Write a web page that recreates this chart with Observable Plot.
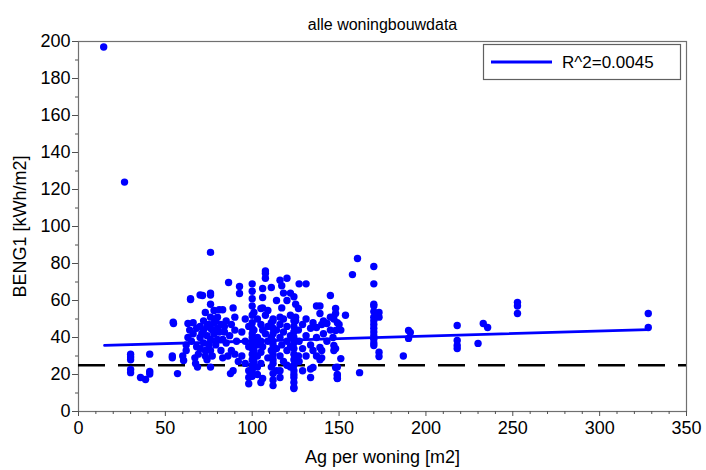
<!DOCTYPE html>
<html>
<head>
<meta charset="utf-8">
<script src="https://cdn.jsdelivr.net/npm/d3@7"></script>
<script src="https://cdn.jsdelivr.net/npm/@observablehq/plot@0.6"></script>
<style>
  html, body { margin: 0; padding: 0; background: #fff; }
  #chart { width: 706px; height: 470px; position: relative; }
</style>
</head>
<body>
<div id="chart"></div>
<script>
// ---- data ----
const chartTitle = "alle woningbouwdata";
const xLabel = "Ag per woning [m2]";
const yLabel = "BENG1 [kWh/m2]";
const legendLabel = "R^2=0.0045";

const xTicks = [0, 50, 100, 150, 200, 250, 300, 350];
const yTicks = [0, 20, 40, 60, 80, 100, 120, 140, 160, 180, 200];
const threshold = [25];

// regression line end points
const fitX = [15, 328];
const fitY = [35.7, 44.3];

// scatter points: Ag per woning [m2]
const agPerWoning = [
  14.5, 26.5,
  30, 30, 30, 30, 30, 41, 41, 41, 35.7, 38.6, 54, 54, 54.7, 54.5, 57,
  63, 64.5, 64.5, 60, 60.5, 62, 62, 63, 64, 65, 66, 67.4, 68.5, 68, 69, 70, 70, 70, 71.4,
  72, 72, 72, 73, 73, 74, 74, 75, 75, 76, 76, 76, 76, 76, 76, 76, 76, 76, 77, 78, 78, 78,
  79, 80, 80, 80, 81, 82, 82, 83, 83, 84, 85, 85, 86, 86.4, 87.5, 88, 89, 89, 90, 90, 90,
  91, 92.7, 92.7, 92,
  66, 68, 71, 74, 77, 79, 81, 83, 84, 87, 88, 70, 73, 67,
  94, 94,
  96, 96, 96,
  98, 98, 98, 98, 98,
  100, 100, 100, 100, 100, 100, 100, 100, 100, 100, 100, 100, 100, 100, 100, 100,
  101, 101, 101, 101,
  103, 103, 103, 103, 103, 103,
  105, 105, 105, 105, 105, 105,
  106, 106, 106, 106, 106, 106,
  107.6, 107.6, 107.6, 107.6, 107.6,
  109, 109, 109, 109,
  111, 111, 111, 111, 111,
  112, 112, 112, 112, 112, 112, 112, 112, 112, 112, 112, 112,
  114, 114, 114, 114,
  116, 116, 116, 116, 116, 116, 116,
  117, 117, 117,
  118, 118, 118, 118,
  120, 120, 120, 120, 120, 120,
  122, 122, 122, 122, 122,
  124, 124, 124, 124, 124, 124, 124, 124, 124, 124, 124, 124, 124, 124, 124, 124,
  125, 125, 125,
  126.6, 126.6, 126.6,
  127, 127, 127,
  129, 129, 129,
  131, 131, 131, 131,
  133.6, 133.6, 133.6, 133.6,
  135, 135, 135,
  137, 137, 137, 137,
  139, 139, 139, 139,
  140, 140, 140,
  141, 141,
  143, 143,
  145, 145, 145,
  146.5, 146.5,
  147, 147, 147,
  148, 148, 148, 148, 148,
  149, 149, 149, 149, 149, 149,
  150, 151, 151, 153.7, 157.7, 160.6, 161.8,
  170, 170, 170, 170, 170, 170, 170, 170, 170, 170, 170, 170, 170, 170,
  173, 173, 173, 173,
  187, 190, 190, 191,
  218, 218, 218, 218,
  230, 233, 235.5,
  252.7, 252.7, 252.7,
  328, 328
];

// scatter points: BENG1 [kWh/m2]
const beng1 = [
  197, 124,
  31, 29.5, 28, 22.7, 21, 31, 21.6, 20.3, 18.4, 17.3, 30, 29, 47.6, 48.3, 20.5,
  47.6, 61, 60.5, 30, 27.6, 33, 36, 40, 44, 38, 42, 26, 24, 35, 31, 46, 40, 63, 62.7,
  49, 44, 37, 53.5, 33, 28, 41, 47, 36, 86, 64, 63, 58, 51, 45, 39, 33, 24, 30, 54.6, 48, 42,
  36, 51, 45, 39, 55, 47, 33, 55, 29, 43, 37, 49, 30, 69.7, 20.5, 33, 22, 56, 51, 44, 31,
  38, 67.6, 63.8, 27,
  48, 45, 42, 46, 44, 49, 43, 39, 46, 41, 47, 34, 30, 29,
  43, 30,
  50, 38, 26,
  15, 18.4, 22, 35, 46,
  69, 65, 61, 57, 52, 48, 45, 42, 40, 37, 34, 31, 28, 25, 22, 19,
  53.5, 44, 33, 27,
  50, 40, 36, 30, 24, 20,
  55.7, 47, 38, 32, 26, 15.7,
  66.5, 61.6, 56, 44, 35, 17.8,
  76, 74.6, 72, 52, 42,
  54.6, 46, 38, 29,
  67, 48, 40, 33, 24,
  50, 49, 45, 42, 38, 36, 31, 28, 26, 20.5, 17, 14,
  60, 44, 34, 22,
  71, 51, 47, 40, 30, 22, 18.4,
  68, 56, 36,
  64, 50, 43, 27,
  72, 60, 46, 38, 33, 25,
  64, 52, 41, 35, 24,
  62, 49, 46, 43, 40, 37, 34, 31, 28, 25, 22, 20, 18.4, 15.7, 13, 12.4,
  58, 51, 49,
  55.7, 44, 30,
  69, 38, 27,
  47, 34, 22,
  69, 50, 41, 30,
  23, 18.4, 45, 36,
  48, 33, 23.8,
  57, 45.4, 40, 30,
  57, 53, 34.6, 28,
  33, 29, 47,
  49, 42,
  47.6, 38,
  62.7, 44, 51,
  51, 40,
  50, 35.7, 33,
  55.7, 53, 43.8, 34, 23.8,
  48, 19.5, 17.8, 24, 20, 18,
  47, 44, 28.6, 52, 74, 82.7, 21,
  78.4, 69, 58, 57, 54, 51, 49, 47, 45, 43, 41, 39, 37, 35.7,
  53.5, 51, 32, 29.7,
  30, 43.8, 39.5, 42.7,
  46.5, 38.4, 35.7, 34,
  36.8, 47.6, 45.4,
  59, 57, 53,
  53, 45.4
];

// ---- build ----
const points = agPerWoning.map((x, i) => ({x, y: beng1[i]}));
const fit = fitX.map((x, i) => ({x, y: fitY[i]}));
const xMinor = d3.range(0, 351, 10).filter(v => !xTicks.includes(v));
const yMinor = d3.range(0, 201, 10).filter(v => !yTicks.includes(v));

const font = "'Liberation Sans', Arial, sans-serif";
const blue = "#0000ff";

const plot = Plot.plot({
  width: 706,
  height: 470,
  marginLeft: 78,
  marginRight: 20,
  marginTop: 41,
  marginBottom: 59,
  style: {fontFamily: font, fontSize: "17px", color: "#000", background: "#fff"},
  x: {domain: [0, 350]},
  y: {domain: [0, 200]},
  marks: [
    Plot.frame({stroke: "#707070", strokeWidth: 1.2}),
    Plot.axisX({ticks: xMinor, tickSize: 3, text: null, label: null, stroke: "#505050"}),
    Plot.axisX({ticks: xTicks, tickSize: 5, tickPadding: 5, stroke: "#505050", fill: "#000",
      label: xLabel, labelAnchor: "center", labelArrow: "none", labelOffset: 51, fontSize: 18}),
    Plot.axisY({ticks: yMinor, tickSize: 3, text: null, label: null, stroke: "#505050"}),
    Plot.axisY({ticks: yTicks, tickSize: 6, tickPadding: 2, stroke: "#505050", fill: "#000",
      label: yLabel, labelAnchor: "center", labelArrow: "none", labelOffset: 65, fontSize: 18}),
    Plot.ruleY(threshold, {stroke: "#000", strokeWidth: 2.5, strokeDasharray: "27,13"}),
    Plot.dot(points, {x: "x", y: "y", r: 3.7, fill: blue, stroke: "none"}),
    Plot.line(fit, {x: "x", y: "y", stroke: blue, strokeWidth: 2.8}),
    Plot.text([chartTitle], {frameAnchor: "top", dy: -23, fontSize: 16, fill: "#000"})
  ]
});

// legend box (inside the frame, top right)
const svg = d3.select(plot);
const g = svg.append("g").attr("font-family", font).attr("text-anchor", "start");
g.append("rect").attr("x", 483.5).attr("y", 44.5).attr("width", 197).attr("height", 35)
  .attr("fill", "#fff").attr("stroke", "#606060").attr("stroke-width", 1.2);
g.append("line").attr("x1", 491).attr("x2", 552).attr("y1", 62).attr("y2", 62)
  .attr("stroke", blue).attr("stroke-width", 2.8);
g.append("text").attr("x", 562).attr("y", 62).attr("dy", "0.35em")
  .attr("text-anchor", "start").attr("font-size", 17).attr("fill", "#000").text(legendLabel);

document.getElementById("chart").appendChild(plot);
</script>
</body>
</html>
